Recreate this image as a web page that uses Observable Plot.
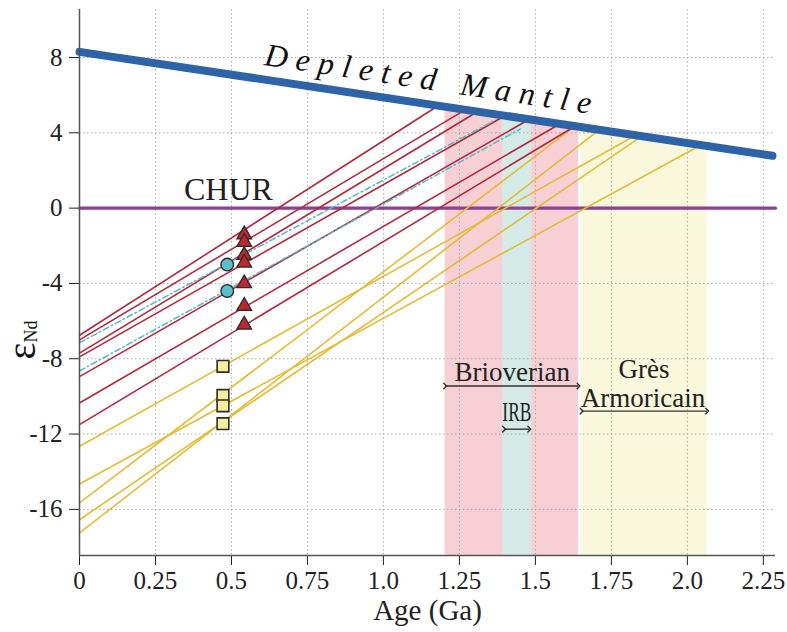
<!DOCTYPE html>
<html>
<head>
<meta charset="utf-8">
<script src="https://cdn.jsdelivr.net/npm/d3@7"></script>
<script src="https://cdn.jsdelivr.net/npm/@observablehq/plot@0.6"></script>
<style>
  html, body { margin: 0; padding: 0; background: #fff; }
  #chart svg { display: block; }
</style>
</head>
<body>
<div id="chart"></div>
<script>
// ---- tick labels ----
const xTicks = [0, 0.25, 0.5, 0.75, 1.0, 1.25, 1.5, 1.75, 2.0, 2.25];
const yTicks = [-16, -12, -8, -4, 0, 4, 8];

// ---- reference curves ----
const dmAge = [0, 2.28];
const dmEps = [8.3, 2.78];
const churAge = [0, 2.29];
const churEps = [0, 0];

// ---- Brioverian (red) evolution lines ----
const redStartEps = [-6.75, -7.0, -7.7, -7.9, -8.95, -10.35, -11.5];
const redEndAge   = [1.18, 1.27, 1.31, 1.40, 1.48, 1.58, 1.63];
const redEndEps   = [5.44, 5.23, 5.13, 4.91, 4.72, 4.47, 4.35];

// ---- Grès Armoricain (yellow) evolution lines ----
const yelStartEps = [-12.65, -14.65, -15.65, -16.55, -17.25];
const yelEndAge   = [1.83, 2.045, 1.63, 1.85, 1.71];
const yelEndEps   = [3.87, 3.35, 4.35, 3.82, 4.16];

// ---- IRB (teal, dash-dot) evolution lines ----
const tealStartEps = [-7.15, -8.65];
const tealEndAge   = [1.36, 1.45];
const tealEndEps   = [4.6, 4.2];

// ---- sample points ----
const triAge = 0.542;
const triEps = [-1.4, -1.8, -2.5, -2.9, -4.0, -5.2, -6.2];
const cirAge = 0.486;
const cirEps = [-3.0, -4.4];
const sqAge = 0.472;
const sqEps = [-8.4, -9.95, -10.5, -11.45];

// ---- T_DM ranges (shaded bands) ----
const bandNames  = ["Brioverian A", "IRB", "Brioverian B", "Grès Armoricain"];
const bandStart  = [1.203, 1.394, 1.487, 1.652];
const bandEnd    = [1.394, 1.487, 1.642, 2.065];
const bandTopStart = [5.39, 4.93, 4.70, 4.30];
const bandTopEnd   = [4.93, 4.70, 4.33, 3.30];
const bandColors = ["#f6d0d4", "#d3eae7", "#f6d0d4", "#f9f7dc"];

// ---- range labels ----
const rangeLabels = ["Brioverian", "IRB", "Grès", "Armoricain"];
const rangeLabelAge = [1.424, 1.439, 1.857, 1.854];
const rangeLabelEps = [-8.7, -10.87, -8.58, -10.12];
const arrowNames = ["Brioverian", "IRB", "Grès Armoricain"];
const arrowFrom = [1.203, 1.397, 1.652];
const arrowTo   = [1.642, 1.48, 2.065];
const arrowEps  = [-9.45, -11.74, -10.78];

const yMin = -18.45, yMax = 10.55;

function segRows(starts, endAges, endEps) {
  const rows = [];
  starts.forEach((s, i) => {
    rows.push({id: i, x: 0, y: s});
    rows.push({id: i, x: endAges[i], y: endEps[i]});
  });
  return rows;
}
const redRows = segRows(redStartEps, redEndAge, redEndEps);
const yelRows = segRows(yelStartEps, yelEndAge, yelEndEps);
const tealRows = segRows(tealStartEps, tealEndAge, tealEndEps);
const dmRows = dmAge.map((a, i) => ({x: a, y: dmEps[i]}));
const churRows = churAge.map((a, i) => ({x: a, y: churEps[i]}));
const bandMarks = bandNames.map((n, i) => Plot.areaY(
  [{x: bandStart[i], y: bandTopStart[i]}, {x: bandEnd[i], y: bandTopEnd[i]}],
  {x: "x", y1: yMin, y2: "y", fill: bandColors[i]}
));
const arrowRows = arrowNames.map((n, i) => ({x1: arrowFrom[i], x2: arrowTo[i], y: arrowEps[i]}));
const labelRows = rangeLabels.map((t, i) => ({t, x: rangeLabelAge[i], y: rangeLabelEps[i]}));

const serif = "'Liberation Serif', 'Times New Roman', serif";

const chart = Plot.plot({
  width: 787,
  height: 632,
  marginLeft: 79,
  marginRight: 12,
  marginTop: 9,
  marginBottom: 77,
  style: {fontFamily: serif, fontSize: "25px", color: "#222", background: "#fff"},
  x: {domain: [0, 2.29], ticks: xTicks, tickSize: 10, tickPadding: 6,
      tickFormat: d => d === 0 ? "0" : (Number.isInteger(d) ? d.toFixed(1) : String(d)), label: null},
  y: {domain: [yMin, yMax], ticks: yTicks, tickSize: 10, tickPadding: 7,
      tickFormat: d => String(d), label: null},
  marks: [
    ...bandMarks,
    Plot.ruleX(xTicks.filter(d => d > 0), {stroke: "#aaa", strokeWidth: 1, strokeDasharray: "1.5,2.5"}),
    Plot.ruleY(yTicks, {stroke: "#aaa", strokeWidth: 1, strokeDasharray: "1.5,2.5", x1: 0, x2: 2.29}),
    Plot.line(churRows, {x: "x", y: "y", stroke: "#8e3f90", strokeWidth: 3.2}),
    Plot.line(yelRows, {x: "x", y: "y", z: "id", stroke: "#e6bb37", strokeWidth: 1.6}),
    Plot.line(redRows, {x: "x", y: "y", z: "id", stroke: "#b3283a", strokeWidth: 1.6}),
    Plot.line(tealRows, {x: "x", y: "y", z: "id", stroke: "#55b8c6", strokeWidth: 1.5, strokeDasharray: "6,3,1.5,3"}),
    Plot.line(dmRows, {x: "x", y: "y", stroke: "#2f63a8", strokeWidth: 8}),
    Plot.dot(sqEps, {x: sqAge, y: d => d, symbol: "square", r: 6.6, fill: "#f5ee9e", stroke: "#2d2d2d", strokeWidth: 1.6}),
    Plot.dot(cirEps, {x: cirAge, y: d => d, symbol: "circle", r: 6.3, fill: "#5cbfcc", stroke: "#2d2d2d", strokeWidth: 1.4}),
    Plot.dot(triEps, {x: triAge, y: d => d, symbol: "triangle", r: 5.4, fill: "#c1262c", stroke: "#2d2d2d", strokeWidth: 1.4}),
    Plot.link(arrowRows, {x1: "x1", x2: "x2", y1: "y", y2: "y", stroke: "#333", strokeWidth: 1.4, markerStart: "arrow", markerEnd: "arrow"}),
    Plot.text(labelRows, {x: "x", y: "y", text: "t", fontSize: 27, fill: "#222"}),
    Plot.text(["CHUR"], {x: 0.49, y: 0.95, fontSize: 32, fill: "#222"}),
    Plot.text(["Depleted Mantle"], {x: 1.147, y: 5.52, dy: -25, rotate: 8.5, fontSize: 32, fontStyle: "italic", fill: "#111"}),
    Plot.text(["Age (Ga)"], {frameAnchor: "bottom", dy: 64, fontSize: 29, fill: "#222"}),
    Plot.ruleX([0], {stroke: "#555", strokeWidth: 1.5}),
    Plot.ruleY([yMin], {stroke: "#555", strokeWidth: 1.5})
  ]
});

document.getElementById("chart").appendChild(chart);

// post-processing: letter spacing / condensed label / y-axis label with subscript
const svg = d3.select(chart);
svg.selectAll("text").filter(function() { return this.textContent === "Depleted Mantle"; })
  .attr("textLength", 330).attr("lengthAdjust", "spacing");
svg.selectAll("text").filter(function() { return this.textContent === "IRB"; })
  .attr("textLength", 29).attr("lengthAdjust", "spacingAndGlyphs");
const yl = svg.append("text")
  .attr("transform", "translate(35,340) rotate(-90)")
  .attr("font-family", serif)
  .attr("fill", "#111");
yl.append("tspan").attr("font-size", 40).text("ε");
yl.append("tspan").attr("font-size", 18).attr("dy", 2).text("Nd");
</script>
</body>
</html>
